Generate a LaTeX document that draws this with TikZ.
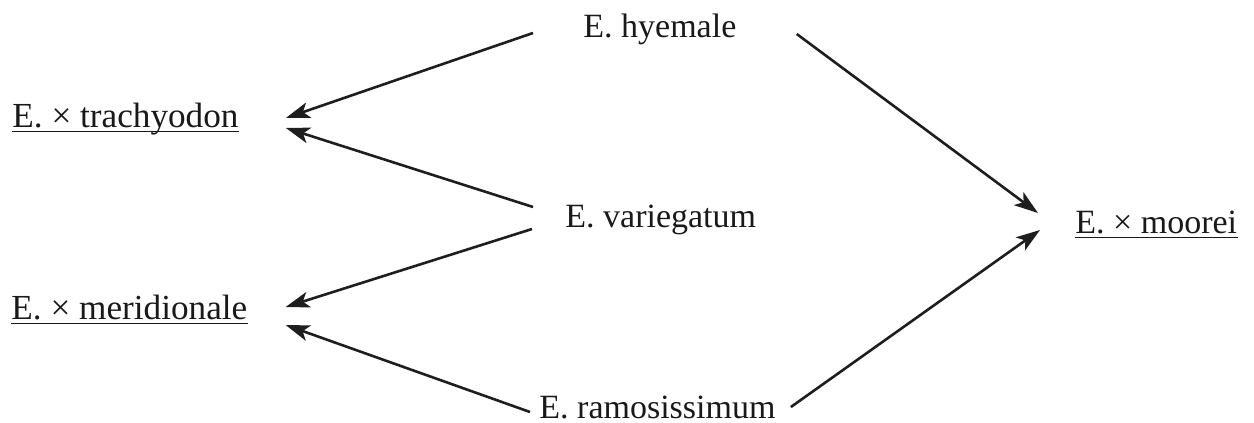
\documentclass[tikz,border=0pt]{standalone}
\usepackage{fontspec}
\setmainfont{Liberation Serif}
\usepackage{tikz}
\usetikzlibrary{arrows.meta, positioning, calc}
\definecolor{mydark}{RGB}{30,30,30}
\definecolor{mytext}{RGB}{25,25,25}
\tikzset{
  taxon/.style={inner sep=0pt, anchor=base west, text=mytext,
    font=\fontsize{17}{20}\selectfont},
  bigtaxon/.style={taxon, font=\fontsize{17.6}{20}\selectfont},
  arrow/.style={-{Stealth[length=12pt, width=8pt, inset=3pt]},
    line width=1.3pt, color=mydark},
  uline/.style={line width=0.9pt, color=mytext}
}

\begin{document}
\begin{tikzpicture}[x=0.5pt, y=-0.5pt]
  \useasboundingbox (0,0) rectangle (1254,423);

  % --- parents (middle column) ---
  \node[taxon] (hyemale) at (583,37) {E. hyemale};
  \node[taxon] (variegatum) at (565,227) {E. variegatum};
  \node[taxon] (ramosissimum) at (539,418) {E. ramosissimum};

  % --- hybrids ---
  \node[bigtaxon] (trachyodon) at (12,127) {E. × trachyodon};
  \node[bigtaxon] (meridionale) at (11,319) {E. × meridionale};
  \node[taxon] (moorei) at (1075,233) {E. × moorei};

  % underlines of the hybrids
  \draw[uline] ([yshift=-2.2pt]trachyodon.base west) -- ([yshift=-2.2pt]trachyodon.base east);
  \draw[uline] ([yshift=-2.2pt]meridionale.base west) -- ([yshift=-2.2pt]meridionale.base east);
  \draw[uline] ([yshift=-2.2pt]moorei.base west) -- ([yshift=-2.2pt]moorei.base east);

  % --- crossings ---
  \draw[arrow] ([shift={(-50,-4)}]hyemale.base west) -- ([shift={(47,-9)}]trachyodon.base east);
  \draw[arrow] ([shift={(-32,-20)}]variegatum.base west) -- ([shift={(47,1)}]trachyodon.base east);
  \draw[arrow] ([shift={(-33,2)}]variegatum.base west) -- ([shift={(38,-12)}]meridionale.base east);
  \draw[arrow] ([shift={(-9,-6)}]ramosissimum.base west) -- ([shift={(38,6)}]meridionale.base east);
  \draw[arrow] ([shift={(60,-3)}]hyemale.base east) -- ([shift={(-37,-20)}]moorei.base west);
  \draw[arrow] ([shift={(15,-11)}]ramosissimum.base east) -- ([shift={(-35,-3)}]moorei.base west);
\end{tikzpicture}
\end{document}
